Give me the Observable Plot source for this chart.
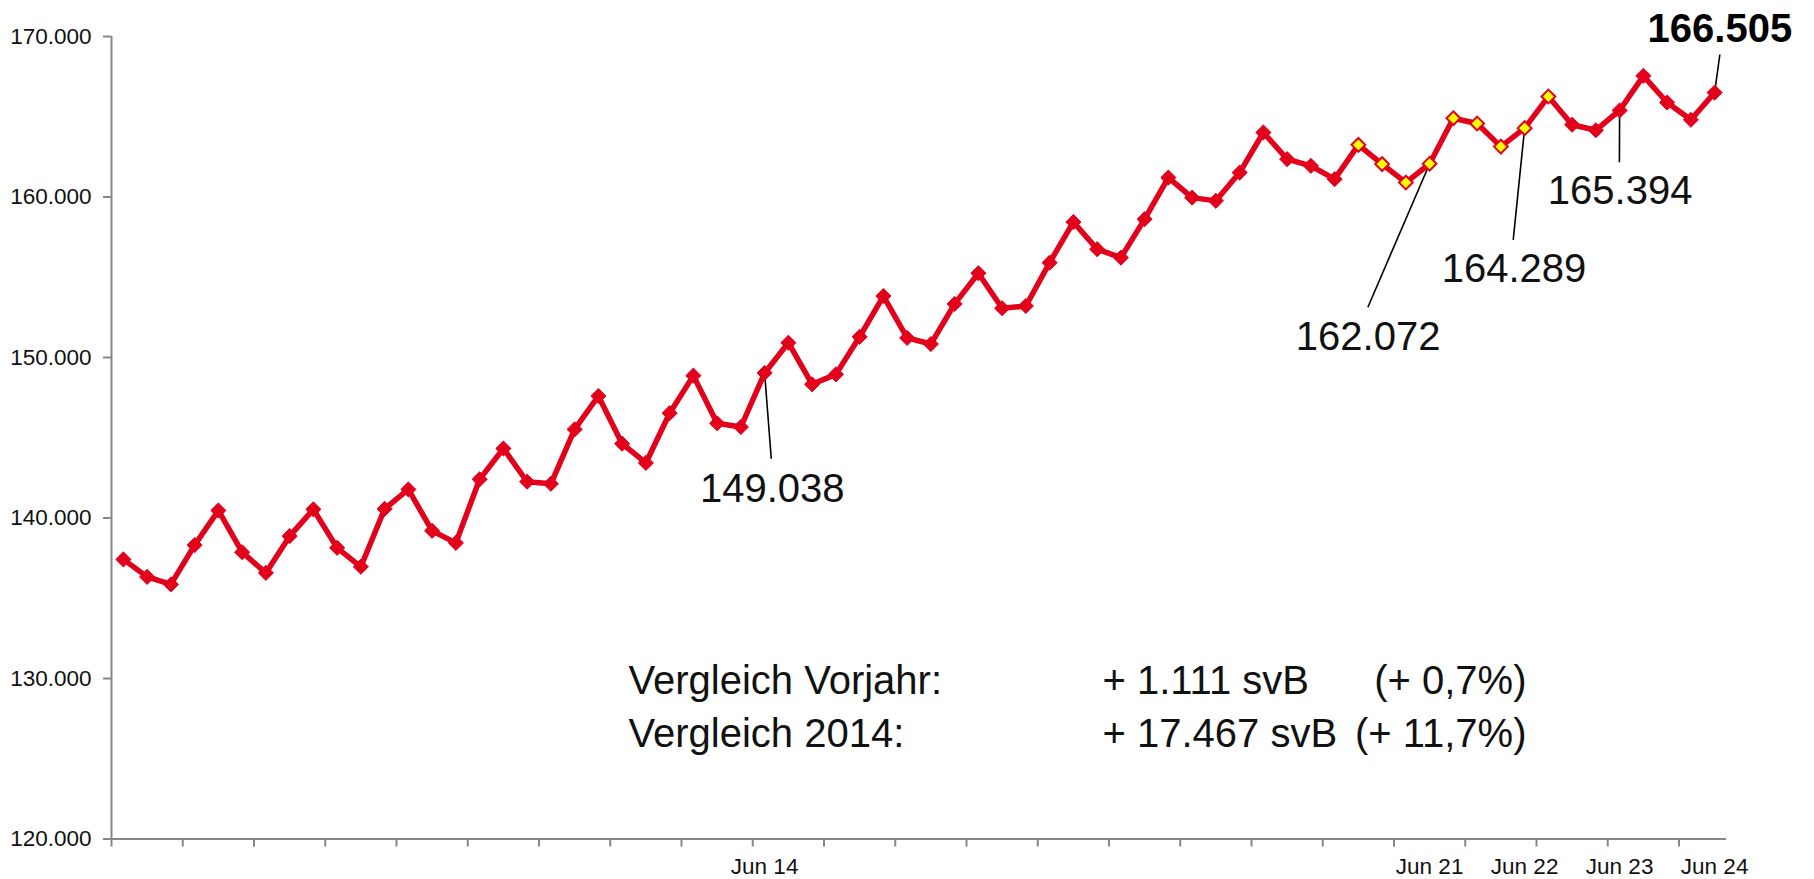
<!DOCTYPE html>
<html>
<head>
<meta charset="utf-8">
<script src="https://cdn.jsdelivr.net/npm/d3@7"></script>
<script src="https://cdn.jsdelivr.net/npm/@observablehq/plot@0.6"></script>
<style>
  html, body { margin: 0; padding: 0; background: #fff; overflow: hidden; }
</style>
</head>
<body>
<div id="chart"></div>
<script>
// Quarterly values (Sep 07 … Jun 24), employees subject to social insurance (svB)
const employees = [
  137420, 136330, 135860, 138310, 140470, 137870, 136580, 138870,
  140540, 138140, 136960, 140570, 141780, 139200, 138450, 142410,
  144330, 142260, 142130, 145520, 147600, 144630, 143430, 146530,
  148870, 145900, 145670, 149038, 150920, 148330, 148950, 151290,
  153830, 151220, 150840, 153340, 155250, 153070, 153210, 155910,
  158440, 156750, 156220, 158620, 161210, 159960, 159760, 161520,
  164020, 162360, 161940, 161110, 163250, 162050, 160900, 162072,
  164910, 164580, 163140, 164289, 166260, 164500, 164160, 165394,
  167550, 165890, 164810, 166505
];

// Category axis: labelled quarters (index into employees) and their labels
const xLabelIndex = [27, 55, 59, 63, 67];
const xLabels = ["Jun 14", "Jun 21", "Jun 22", "Jun 23", "Jun 24"];
const xTickEvery = 3;

// Value axis ticks
const yTicks = [120000, 130000, 140000, 150000, 160000, 170000];

// Quarters drawn with yellow markers
const highlightFrom = 52;
const highlightTo = 60;

// Annotated quarters (values shown as labels), last one bold
const annotatedIndex = [27, 55, 59, 63, 67];
const annotatedBold = [false, false, false, false, true];

// Comparison text box
const compareLabels = ["Vergleich Vorjahr:", "Vergleich 2014:"];
const compareAbsolute = ["+ 1.111 svB", "+ 17.467 svB"];
const comparePercent = ["(+ 0,7%)", "(+ 11,7%)"];

// ---- layout / style ----
const W = 1814, H = 879;
const red = "#e2001a";
const gray = "#878787";
const ink = "#111";
const font = "'Liberation Sans', Arial, Helvetica, sans-serif";

// annotation placement (in data units: x position, value)
const leaderEnd = [[27.78, 143688], [52.90, 153134], [59.02, 157333], [63.49, 162168], [67.72, 168879]];
const labelPos  = [[27.82, 141028], [52.91, 150480], [59.05, 154692], [63.52, 159533], [67.72, 169645]];

const de = d3.formatLocale({decimal: ",", thousands: ".", grouping: [3], currency: ["", " €"]});
const fmt = de.format(",d");

const data = employees.map((v, i) => ({i, pos: i + 0.5, value: v, hi: i >= highlightFrom && i <= highlightTo}));
const n = employees.length;

const tickMarks = d3.range(0, n, xTickEvery);
const labelMap = new Map(xLabelIndex.map((k, j) => [k + 0.5, xLabels[j]]));

const annotations = annotatedIndex.map((k, j) => ({
  x1: k + 0.5, y1: employees[k],
  x2: leaderEnd[j][0], y2: leaderEnd[j][1],
  lx: labelPos[j][0], ly: labelPos[j][1],
  text: fmt(employees[k]), bold: annotatedBold[j]
}));

const chart = Plot.plot({
  width: W,
  height: H,
  marginLeft: 111,
  marginRight: 88,
  marginTop: 36,
  marginBottom: 40.5,
  style: {fontFamily: font, background: "#fff", color: ink},
  x: {type: "linear", domain: [0, n]},
  y: {domain: [120000, 170000]},
  marks: [
    // axis lines
    Plot.ruleX([0], {stroke: gray, strokeWidth: 2}),
    Plot.ruleY([120000], {stroke: gray, strokeWidth: 2}),
    // y axis
    Plot.axisY({
      ticks: yTicks, tickSize: 8, tickPadding: 12, tickFormat: fmt,
      fontSize: 22.5, stroke: gray, strokeWidth: 2, fill: ink, label: null
    }),
    // x tick marks every 3 quarters
    Plot.axisX({
      ticks: tickMarks, tickSize: 8, tickFormat: () => "", stroke: gray, strokeWidth: 2, label: null
    }),
    // x labels
    Plot.axisX({
      ticks: xLabelIndex.map(k => k + 0.5), tickSize: 0, tickPadding: 19,
      tickFormat: d => labelMap.get(d), fontSize: 22.5, fill: ink, label: null
    }),
    // leader lines
    Plot.link(annotations, {x1: "x1", y1: "y1", x2: "x2", y2: "y2", stroke: "#000", strokeWidth: 1.6}),
    // series
    Plot.line(data, {x: "pos", y: "value", stroke: red, strokeWidth: 5.5, strokeLinejoin: "round"}),
    Plot.dot(data.filter(d => !d.hi), {x: "pos", y: "value", symbol: "diamond2", r: 6.8, fill: red, stroke: red, strokeWidth: 1}),
    Plot.dot(data.filter(d => d.hi), {x: "pos", y: "value", symbol: "diamond2", r: 6.2, fill: "#ffff00", stroke: red, strokeWidth: 2}),
    // annotation labels
    Plot.text(annotations.filter(d => !d.bold), {x: "lx", y: "ly", text: "text", fontSize: 40, lineAnchor: "bottom", textAnchor: "middle", fill: ink}),
    Plot.text(annotations.filter(d => d.bold), {x: "lx", y: "ly", text: "text", fontSize: 40, fontWeight: "bold", lineAnchor: "bottom", textAnchor: "middle", fill: "#000"}),
    // comparison text
    Plot.text([compareLabels.join("\n")], {frameAnchor: "top-left", text: d => d, dx: 517, dy: 619, fontSize: 40, lineHeight: 1.34, lineAnchor: "top", textAnchor: "start", fill: ink}),
    Plot.text([compareAbsolute.join("\n")], {frameAnchor: "top-left", text: d => d, dx: 991, dy: 619, fontSize: 40, lineHeight: 1.34, lineAnchor: "top", textAnchor: "start", fill: ink}),
    Plot.text([comparePercent.join("\n")], {frameAnchor: "top-left", text: d => d, dx: 1415, dy: 619, fontSize: 40, lineHeight: 1.34, lineAnchor: "top", textAnchor: "end", fill: ink})
  ]
});

document.getElementById("chart").appendChild(chart);
</script>
</body>
</html>
